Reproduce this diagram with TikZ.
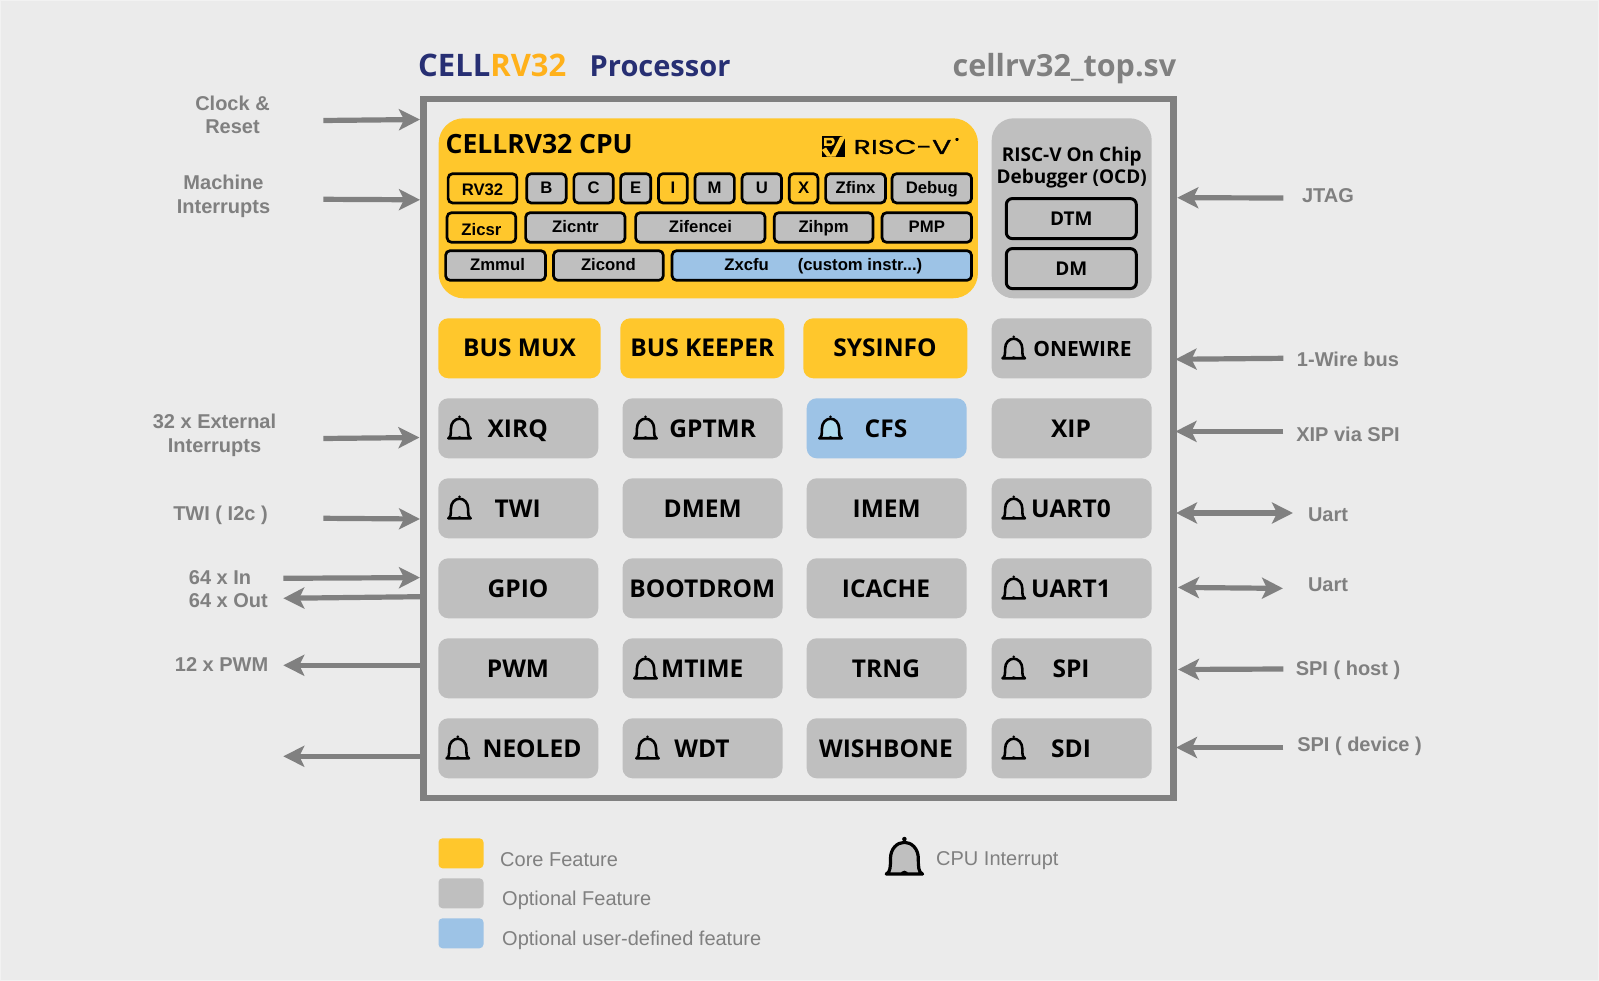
\documentclass[tikz,border=0pt]{standalone}
\usepackage{fontspec}
\usetikzlibrary{arrows.meta}
\setmainfont{Open Sans}
\newfontfamily\lblf{Liberation Sans}
\newfontfamily\riscf[FakeBold=0.8]{Poppins}
\definecolor{bgc}{HTML}{EBEBEB}
\definecolor{bgedge}{HTML}{F2F2F2}
\definecolor{corec}{HTML}{FFC72C}
\definecolor{optc}{HTML}{BFBFBF}
\definecolor{userc}{HTML}{9DC3E6}
\definecolor{framec}{HTML}{808080}
\definecolor{navyc}{HTML}{272F73}
\definecolor{orangec}{HTML}{FFB11B}
\definecolor{lightbell}{HTML}{AEDAEE}
\newcommand\belllw{2.6}
\tikzset{
  panel/.style={rounded corners=10pt,inner sep=0pt,outer sep=0pt},
  chipbox/.style={draw=black,line width=2.7pt,rounded corners=4.5pt,inner sep=0pt,outer sep=0pt},
  chiptext/.style={font=\lblf\bfseries\fontsize{16.7}{20}\selectfont,text=black,inner sep=0pt,text height=12pt,text depth=0pt},
  bigtext/.style={font=\fontsize{24.5}{30}\selectfont\bfseries,text=black,inner sep=0pt,text height=18pt,text depth=0pt},
  sidetext/.style={font=\lblf\fontsize{20}{23.5}\selectfont\bfseries,text=framec,inner sep=0pt,align=center},
  legendtext/.style={font=\lblf\fontsize{20}{24}\selectfont,text=framec,inner sep=0pt,anchor=west},
  sigarrow/.style={draw=framec,line width=5.2pt,-{Stealth[length=21pt,width=21pt,inset=5pt]}},
  bothsig/.style={draw=framec,line width=5.2pt,{Stealth[length=21pt,width=21pt,inset=5pt]}-{Stealth[length=21pt,width=21pt,inset=5pt]}},
  pics/bellpic/.style={code={
    \draw[draw=black,fill=#1,line width=\belllw pt,line join=round]
      (-11.2,9.6) .. controls (-8.6,8.5) and (-8.6,5) .. (-8.6,0)
      .. controls (-8.6,-6) and (-4.5,-10) .. (0,-10)
      .. controls (4.5,-10) and (8.6,-6) .. (8.6,0)
      .. controls (8.6,5) and (8.6,8.5) .. (11.2,9.6) -- cycle;
    \fill[black] (0,-12) circle (1.4);
    \fill[black] (-2.5,10) arc[start angle=180,end angle=360,radius=2.5] -- cycle;
  }},
  pics/bellpic/.default=none
}
% name, zoom coordinates x1 x2 y1 y2, fill, text, text shift
\newcommand\chip[8]{%
  \pgfmathsetmacro\chx{420+(#2+#3)/5.6}%
  \pgfmathsetmacro\chy{100+(#4+#5)/6}%
  \pgfmathsetmacro\chw{(#3-#2)/2.8-2.7}%
  \pgfmathsetmacro\chh{(#5-#4)/3-2.7}%
  \node[chipbox,fill=#6,minimum width=\chw pt,minimum height=\chh pt] (#1) at (\chx,\chy) {};
  \node[chiptext] (#1t) at (\chx,\chy+#8) {#7};
}
% name, left, top, width, fill
\newcommand\blk[5]{%
  \node[panel,fill=#5,minimum width=#4pt,minimum height=60pt] (#1) at ({#2+#4/2},{#3+30}) {};
}
\begin{document}
\begin{tikzpicture}[x=1pt,y=-1pt]
\useasboundingbox (0,0) rectangle (1599,981);
\fill[bgc] (0,0) rectangle (1599,981);
\draw[bgedge,line width=2pt] (0,0) rectangle (1599,981);

% titles
\node[font=\fontsize{31}{36}\selectfont\bfseries,anchor=west,inner sep=0pt,text height=22pt,text depth=0pt] (title) at (418,66) {\textcolor{navyc}{CELL}\textcolor{orangec}{RV32}};
\node[font=\fontsize{29}{34}\selectfont\bfseries,text=navyc,anchor=west,inner sep=0pt,text height=21pt,text depth=0pt] (proc) at (589.5,66) {Processor};
\node[font=\fontsize{30.5}{36}\selectfont\bfseries,text=framec,anchor=west,inner sep=0pt,text height=22pt,text depth=0pt] (file) at (952.5,66) {cellrv32\_top.sv};

% frame
\node[draw=framec,line width=6.7pt,inner sep=0pt,outer sep=0pt,minimum width=750pt,minimum height=699pt] (frame) at (798.3,448.5) {};

% CPU
\node[panel,rounded corners=25pt,fill=corec,minimum width=539.3pt,minimum height=180pt] (cpu) at (708.3,208.3) {};
\node[font=\fontsize{26.5}{30}\selectfont\bfseries,text=black,anchor=west,inner sep=0pt,text height=19pt,text depth=0pt] (cputitle) at (445.5,144.3) {CELLRV32 CPU};
% RISC-V logo
\fill[black] (821.7,135.7) rectangle (845,156.7);
\fill[corec] (845,135.7) -- (845,138) -- (835.5,156.7) -- (830,156.7) -- (840,137) -- cycle;
\fill[corec] (824,138) -- (833,138) .. controls (836,140) and (835,145) .. (831,146) -- (824,146) -- cycle;
\fill[black] (826.5,140.5) -- (831,140.5) .. controls (832.5,141) and (832.5,143) .. (831,143.5) -- (826.5,143.5) -- cycle;
\fill[corec] (821.7,150) -- (826,147.5) -- (832,156.7) -- (827,156.7) -- cycle;
\node[font=\riscf\fontsize{20}{24}\selectfont,text=black,xscale=1.42,transform shape,inner sep=0pt,text height=14pt,text depth=0pt] (risc) at (902.5,147) {RISC-V};
\node[font=\riscf\fontsize{7}{8}\selectfont,text=black,inner sep=0pt] (riscr) at (957,140.5) {®};

\chip{rv}{75}{275}{217}{313}{corec}{RV32}{1.5}
\chip{b}{295}{413}{217}{313}{optc}{B}{-1}
\chip{c}{427}{545}{217}{313}{optc}{C}{-1}
\chip{e}{558}{650}{217}{313}{optc}{E}{-1}
\chip{i}{664}{752}{217}{313}{corec}{I}{-1}
\chip{m}{766}{884}{217}{313}{optc}{M}{-1}
\chip{u}{898}{1016}{217}{313}{optc}{U}{-1}
\chip{x}{1030}{1118}{217}{313}{corec}{X}{-1}
\chip{zfinx}{1132}{1307}{217}{313}{optc}{Zfinx}{-1}
\chip{debug}{1318}{1548}{217}{313}{optc}{Debug}{-1}
\chip{zicsr}{72}{272}{334}{431}{corec}{Zicsr}{2}
\chip{zicntr}{292}{578}{334}{431}{optc}{Zicntr}{-0.7}
\chip{zifencei}{600}{970}{334}{431}{optc}{Zifencei}{-0.7}
\chip{zihpm}{988}{1272}{334}{431}{optc}{Zihpm}{-0.7}
\chip{pmp}{1290}{1548}{334}{431}{optc}{PMP}{-0.7}
\chip{zmmul}{68}{355}{448}{545}{optc}{\hspace{4pt}Zmmul}{-1}
\chip{zicond}{370}{685}{448}{545}{optc}{Zicond}{-1}
\chip{zxcfu}{702}{1548}{448}{545}{userc}{\hspace{3pt}Zxcfu\hspace{29pt}(custom instr...)}{-1}

% OCD
\node[panel,rounded corners=22pt,fill=optc,minimum width=160pt,minimum height=180pt] (ocd) at (1071.7,208.3) {};
\node[font=\fontsize{19}{22}\selectfont\bfseries,text=black,inner sep=0pt,align=center] (ocdtitle) at (1071.7,168) {RISC-V On Chip\\Debugger (OCD)};
\node[draw=black,line width=3pt,rounded corners=6pt,fill=optc,minimum width=130pt,minimum height=40pt,inner sep=0pt,outer sep=0pt,font=\fontsize{19}{22}\selectfont\bfseries,text height=14pt,text depth=0pt] (dtm) at (1071.3,218.6) {DTM};
\node[draw=black,line width=3pt,rounded corners=6pt,fill=optc,minimum width=130pt,minimum height=40pt,inner sep=0pt,outer sep=0pt,font=\fontsize{19}{22}\selectfont\bfseries,text height=14pt,text depth=0pt] (dm) at (1071.3,268.6) {DM};

% row 1
\blk{busmux}{438.3}{318.3}{162.4}{corec}
\blk{buskeeper}{620.3}{318.3}{164}{corec}
\blk{sysinfo}{803.3}{318.3}{164}{corec}
\blk{onewire}{991.7}{318.3}{160}{optc}
% rows 2-6
\blk{xirq}{438.3}{398.3}{160}{optc}
\blk{gptmr}{622.5}{398.3}{160}{optc}
\blk{cfs}{806.7}{398.3}{160}{userc}
\blk{xip}{991.7}{398.3}{160}{optc}
\blk{twi}{438.3}{478.3}{160}{optc}
\blk{dmem}{622.5}{478.3}{160}{optc}
\blk{imem}{806.7}{478.3}{160}{optc}
\blk{uarta}{991.7}{478.3}{160}{optc}
\blk{gpio}{438.3}{558.3}{160}{optc}
\blk{bootrom}{622.5}{558.3}{160}{optc}
\blk{icache}{806.7}{558.3}{160}{optc}
\blk{uartb}{991.7}{558.3}{160}{optc}
\blk{pwm}{438.3}{638.3}{160}{optc}
\blk{mtime}{622.5}{638.3}{160}{optc}
\blk{trng}{806.7}{638.3}{160}{optc}
\blk{spi}{991.7}{638.3}{160}{optc}
\blk{neoled}{438.3}{718.3}{160}{optc}
\blk{wdt}{622.5}{718.3}{160}{optc}
\blk{wishbone}{806.7}{718.3}{160}{optc}
\blk{sdi}{991.7}{718.3}{160}{optc}

\node[bigtext] (tbusmux) at (519.5,347.3) {BUS MUX};
\node[bigtext] (tbuskeeper) at (702.3,347.3) {BUS KEEPER};
\node[bigtext] (tsysinfo) at (885,347.3) {SYSINFO};
\node[bigtext,font=\fontsize{21}{26}\selectfont\bfseries,text height=15pt] (tonewire) at (1082.5,349.5) {ONEWIRE};
\node[bigtext] (txirq) at (517.7,428.3) {XIRQ};
\node[bigtext] (tgptmr) at (712.7,428.3) {GPTMR};
\node[bigtext] (tcfs) at (886,428.3) {CFS};
\node[bigtext] (txip) at (1071,428.3) {XIP};
\node[bigtext] (ttwi) at (517.7,508.3) {TWI};
\node[bigtext] (tdmem) at (702.7,508.3) {DMEM};
\node[bigtext] (timem) at (886.7,508.3) {IMEM};
\node[bigtext] (tuarta) at (1071,508.3) {UART0};
\node[bigtext] (tgpio) at (518,588.3) {GPIO};
\node[bigtext] (tbootrom) at (702.3,588.3) {BOOTDROM};
\node[bigtext] (ticache) at (886,588.3) {ICACHE};
\node[bigtext] (tuartb) at (1071,588.3) {UART1};
\node[bigtext] (tpwm) at (518,668.3) {PWM};
\node[bigtext] (tmtime) at (702.3,668.3) {MTIME};
\node[bigtext] (ttrng) at (886,668.3) {TRNG};
\node[bigtext] (tspi) at (1071,668.3) {SPI};
\node[bigtext] (tneoled) at (532,748.3) {NEOLED};
\node[bigtext] (twdt) at (702,748.3) {WDT};
\node[bigtext] (twishbone) at (886,748.3) {WISHBONE};
\node[bigtext] (tsdi) at (1071,748.3) {SDI};

% bells
\pic at (1013.7,348.7) {bellpic};
\pic at (459.5,428.7) {bellpic};
\pic at (645.5,428.7) {bellpic};
\pic at (830.5,428.7) {bellpic=lightbell};
\pic at (459.5,508.7) {bellpic};
\pic at (1013.7,508.7) {bellpic};
\pic at (1013.7,588.7) {bellpic};
\pic at (645.5,668.7) {bellpic};
\pic at (1013.7,668.7) {bellpic};
\pic at (457.8,748.7) {bellpic};
\pic at (647.5,748.7) {bellpic};
\pic at (1013.7,748.7) {bellpic};

% left labels
\node[sidetext] (lclk) at (232.5,114.7) {Clock \&\\Reset};
\node[sidetext] (lmach) at (223.5,196.2) {Machine\\Interrupts};
\node[sidetext] (lext) at (214.5,435.3) {32 x External\\Interrupts};
\node[sidetext] (ltwi) at (220.5,515.5) {TWI ( I2c )};
\node[sidetext,align=left,anchor=west] (lgpio) at (188.7,589.3) {64 x In\\64 x Out};
\node[sidetext] (lpwm) at (221.6,664.8) {12 x PWM};
% right labels
\node[sidetext] (rjtag) at (1328,195.5) {JTAG};
\node[sidetext] (rone) at (1348,359.5) {1-Wire bus};
\node[sidetext] (rxip) at (1348,434) {XIP via SPI};
\node[sidetext] (ruarta) at (1328,514.5) {Uart};
\node[sidetext] (ruartb) at (1328,584.8) {Uart};
\node[sidetext] (rspi) at (1348,670) {SPI ( host )};
\node[sidetext] (rsdi) at (1359.5,746) {SPI ( device )};

% arrow ends
\coordinate (a1s) at (323.3,120.5); \coordinate (a1e) at (420,119.5);
\coordinate (a2s) at (323.3,199.3); \coordinate (a2e) at (420,199.8);
\coordinate (a3s) at (323.3,438.5); \coordinate (a3e) at (419.5,437.5);
\coordinate (a4s) at (323.3,518.3); \coordinate (a4e) at (420,519);
\coordinate (a5s) at (283.3,578.3); \coordinate (a5e) at (420,577.6);
\coordinate (a6s) at (420,596.7); \coordinate (a6e) at (283.3,598.3);
\coordinate (a7s) at (420,665.3); \coordinate (a7e) at (283.3,665.3);
\coordinate (a8s) at (420,756.3); \coordinate (a8e) at (283.3,756.3);
\coordinate (b1s) at (1283.3,198); \coordinate (b1e) at (1177.3,197.7);
\coordinate (b2s) at (1283.3,358.3); \coordinate (b2e) at (1175.5,359.3);
\coordinate (b3s) at (1283.3,431.4); \coordinate (b3e) at (1175.5,431.4);
\coordinate (b4s) at (1176,513); \coordinate (b4e) at (1293,513);
\coordinate (b5s) at (1178,587.4); \coordinate (b5e) at (1283,588.4);
\coordinate (b6s) at (1283.3,669); \coordinate (b6e) at (1178,669.5);
\coordinate (b7s) at (1283.3,747.5); \coordinate (b7e) at (1176,747.5);
\foreach \aa in {a1,a2,a3,a4,a5,a6,a7,a8,b1,b2,b3,b6,b7}{
  \draw[sigarrow] (\aa s) -- (\aa e);
}
\draw[bothsig] (b4s) -- (b4e);
\draw[bothsig] (b5s) -- (b5e);

% legend
\node[panel,rounded corners=4pt,fill=corec,minimum width=45pt,minimum height=30pt] (lega) at (461,853.3) {};
\node[panel,rounded corners=4pt,fill=optc,minimum width=45pt,minimum height=30pt] (legb) at (461,893.3) {};
\node[panel,rounded corners=4pt,fill=userc,minimum width=45pt,minimum height=30pt] (legc) at (461,933.3) {};
\node[legendtext] (lta) at (500,859.5) {Core Feature};
\node[legendtext] (ltb) at (502,900.3) {Optional Feature};
\node[legendtext] (ltc) at (502,940.3) {Optional user-defined feature};
\renewcommand\belllw{3.2}
\pic[scale=1.62] at (904.4,858.5) {bellpic=optc};
\node[legendtext] (ltd) at (936,860.5) {CPU Interrupt};
\end{tikzpicture}
\end{document}
